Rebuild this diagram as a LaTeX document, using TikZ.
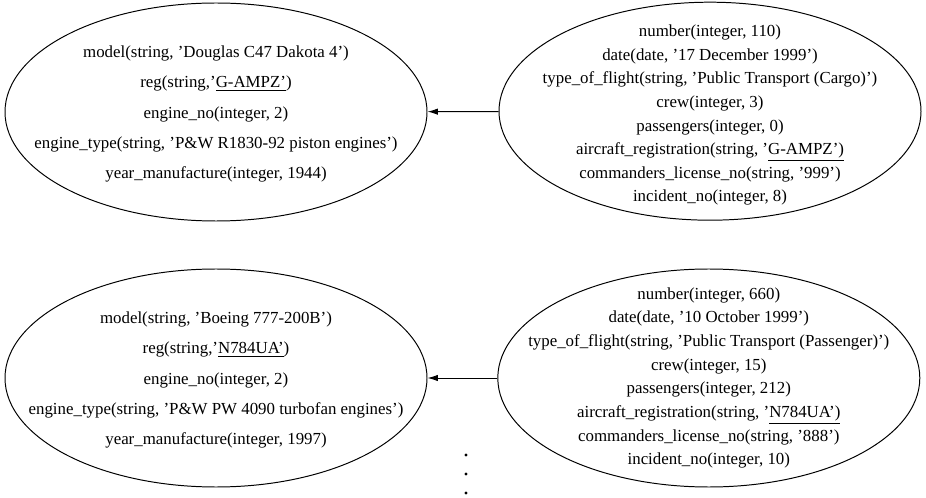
\documentclass[tikz,border=0pt]{standalone}
\usepackage{fontspec}
\setmainfont{Liberation Serif}
\usetikzlibrary{calc,shapes.geometric,arrows.meta}

\tikzset{
    rec/.style={draw,ellipse,inner sep=0pt,line width=0.7pt,minimum width=10.55cm,minimum height=5.45cm},
    craft/.style={align=center,font=\fontsize{12}{21.6}\selectfont},
    incident/.style={align=center,font=\fontsize{12}{16.8}\selectfont},
    link/.style={-{Latex[length=0.26cm,width=0.16cm]},line width=0.7pt}
}

\begin{document}
\begin{tikzpicture}
                \useasboundingbox (0,0) rectangle (23.15,-12.45);

                \node[rec] at (5.4,-2.8) (ac1) {};
                \node[rec] at (17.75,-2.78) (in1) {};
                \node[rec] at (5.4,-9.45) (ac2) {};
                \node[rec] at (17.72,-9.45) (in2) {};

                \node[craft] at ($(ac1)+(0,-0.05)$) (ac1t) {model(string, 'Douglas C47 Dakota 4')\\
                    reg(string,'\underline{G-AMPZ'})\\
                    engine\_no(integer, 2)\\
                    engine\_type(string, 'P\&W R1830-92 piston engines')\\
                    year\_manufacture(integer, 1944)};
                \node[incident] at ($(in1)+(0,-0.1)$) (in1t) {number(integer, 110)\\
                    date(date, '17 December 1999')\\
                    type\_of\_flight(string, 'Public Transport (Cargo)')\\
                    crew(integer, 3)\\
                    passengers(integer, 0)\\
                    aircraft\_registration(string, '\underline{G-AMPZ')}\\
                    commanders\_license\_no(string, '999')\\
                    incident\_no(integer, 8)};

                \node[craft] at ($(ac2)+(0,-0.05)$) (ac2t) {model(string, 'Boeing 777-200B')\\
                    reg(string,'\underline{N784UA'})\\
                    engine\_no(integer, 2)\\
                    engine\_type(string, 'P\&W PW 4090 turbofan engines')\\
                    year\_manufacture(integer, 1997)};
                \node[incident] at (in2) (in2t) {number(integer, 660)\\
                    date(date, '10 October 1999')\\
                    type\_of\_flight(string, 'Public Transport (Passenger)')\\
                    crew(integer, 15)\\
                    passengers(integer, 212)\\
                    aircraft\_registration(string, '\underline{N784UA')}\\
                    commanders\_license\_no(string, '888')\\
                    incident\_no(integer, 10)};

                \draw[link] (in1) -- (ac1);
                \draw[link] (in2) -- (ac2);

                % more rows follow
                \foreach \y in {-11.375,-11.85,-12.325}
                    \fill (11.65,\y) circle (0.04);
            \end{tikzpicture}
\end{document}
